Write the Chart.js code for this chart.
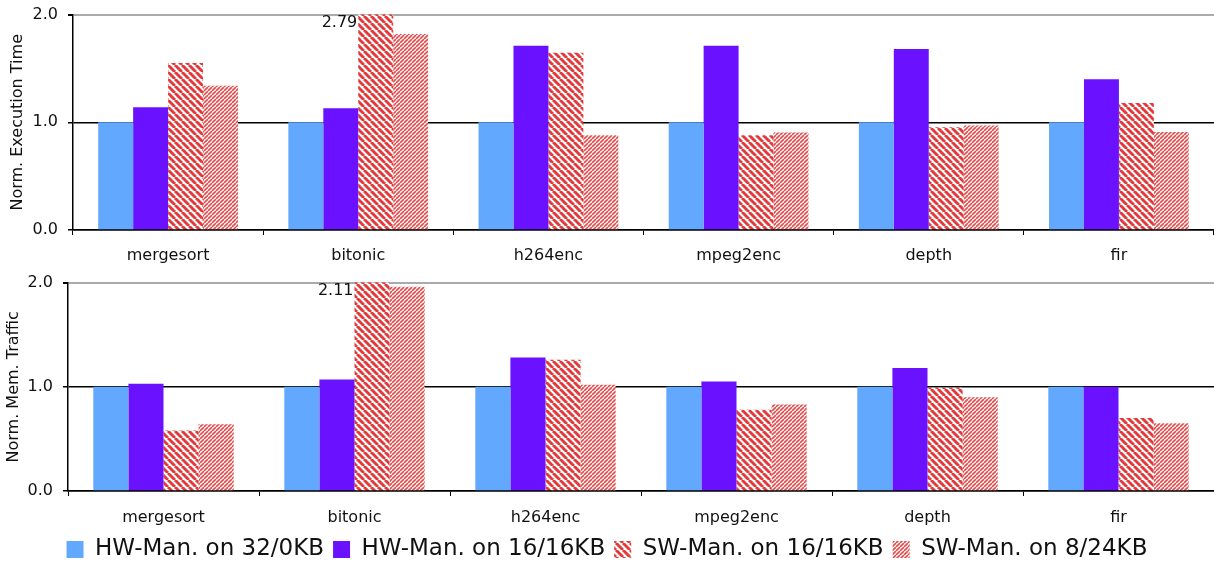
<!DOCTYPE html>
<html>
<head>
<meta charset="utf-8">
<script src="https://cdn.jsdelivr.net/npm/chart.js@4/dist/chart.umd.min.js"></script>
<style>
  html, body { margin: 0; padding: 0; background: #fff; overflow: hidden; }
  #top { position: absolute; left: 0; top: -5px; width: 1214px; height: 269px; }
  #bottom { position: absolute; left: 0; top: 263px; width: 1214px; height: 308px; }
</style>
</head>
<body>
<div id="top"><canvas id="execChart"></canvas></div>
<div id="bottom"><canvas id="trafficChart"></canvas></div>
<script>
// values (normalised to HW-Man. on 32/0KB)
const benchmarks = ["mergesort", "bitonic", "h264enc", "mpeg2enc", "depth", "fir"];
const seriesNames = ["HW-Man. on 32/0KB", "HW-Man. on 16/16KB", "SW-Man. on 16/16KB", "SW-Man. on 8/24KB"];

const execHw32 = [1, 1, 1, 1, 1, 1];
const execHw16 = [1.14, 1.13, 1.71, 1.71, 1.68, 1.40];
const execSw16 = [1.55, 2.79, 1.645, 0.88, 0.955, 1.18];
const execSw8 = [1.34, 1.82, 0.88, 0.905, 0.97, 0.91];

const trafficHw32 = [1, 1, 1, 1, 1, 1];
const trafficHw16 = [1.03, 1.07, 1.28, 1.05, 1.18, 1.0];
const trafficSw16 = [0.58, 2.11, 1.26, 0.78, 0.99, 0.70];
const trafficSw8 = [0.64, 1.96, 1.02, 0.83, 0.90, 0.65];

const yMin = 0;
const yMax = 2;

Chart.defaults.font.family = '"DejaVu Sans", Verdana, sans-serif';
Chart.defaults.color = "#111";

// diagonal hatch fill; dir "back" = "\", otherwise "/"
function stripes(size, width, color, dir) {
  const c = document.createElement("canvas");
  c.width = size;
  c.height = size;
  const g = c.getContext("2d");
  g.fillStyle = "#fff";
  g.fillRect(0, 0, size, size);
  g.strokeStyle = color;
  g.lineWidth = width;
  g.beginPath();
  for (let k = -1; k <= 1; k++) {
    if (dir === "back") {
      g.moveTo(k * size, 0);
      g.lineTo(k * size + size, size);
    } else {
      g.moveTo(k * size, size);
      g.lineTo(k * size + size, 0);
    }
  }
  g.stroke();
  return g.createPattern(c, "repeat");
}

const fills = [
  "#62a8ff",
  "#6a12ff",
  stripes(7, 2.9, "#e2393b", "back"),
  stripes(4, 1.6, "#e64a4a", "fwd"),
];

// print the real value of bars cut off by the axis maximum
const overflowLabels = {
  id: "overflowLabels",
  afterDatasetsDraw(chart) {
    const { ctx, chartArea } = chart;
    const y = chart.scales.y;
    chart.data.datasets.forEach((ds, i) => {
      const meta = chart.getDatasetMeta(i);
      ds.data.forEach((v, j) => {
        if (v <= y.max) return;
        const bar = meta.data[j];
        ctx.save();
        ctx.font = '16px "DejaVu Sans", Verdana, sans-serif';
        ctx.fillStyle = "#111";
        ctx.textAlign = "right";
        ctx.textBaseline = "top";
        ctx.fillText(v.toFixed(2), bar.x - bar.width / 2 - 1, chartArea.top);
        ctx.restore();
      });
    });
  },
};

function makeChart(id, title, series, opts) {
  return new Chart(document.getElementById(id), {
    type: "bar",
    data: {
      labels: benchmarks,
      datasets: series.map((vals, i) => ({
        label: seriesNames[i],
        data: vals,
        backgroundColor: fills[i],
        borderWidth: 0,
        categoryPercentage: 0.735,
        barPercentage: 1.0,
      })),
    },
    options: {
      responsive: true,
      maintainAspectRatio: false,
      animation: false,
      layout: { padding: { top: opts.padTop, right: 0, left: 0, bottom: 0 } },
      plugins: {
        tooltip: { enabled: false },
        legend: {
          display: opts.legend,
          position: "bottom",
          labels: {
            boxWidth: 17,
            boxHeight: 17,
            padding: 9,
            font: { size: 23 },
            color: "#111",
          },
        },
      },
      scales: {
        x: {
          grid: { offset: true, drawOnChartArea: false, tickLength: 5, color: "#000" },
          border: { color: "#000", width: 1.5 },
          ticks: { padding: opts.xPad, font: { size: 16 }, color: "#111" },
          afterFit(scale) { scale.height = opts.xHeight; },
        },
        y: {
          min: yMin,
          max: yMax,
          ticks: {
            stepSize: 1,
            padding: 10,
            font: { size: 16 },
            color: "#111",
            callback: (v) => v.toFixed(1),
          },
          grid: {
            color: (c) => (c.tick && c.tick.value === yMax ? "#aaaaaa" : "#000"),
            lineWidth: (c) => (c.tick && c.tick.value === yMax ? 2 : 1.5),
            tickColor: "#000",
            tickLength: 5,
          },
          border: { color: "#000", width: 1.5 },
          title: {
            display: true,
            text: title,
            font: { size: 16 },
            color: "#111",
            padding: { top: opts.titlePad, bottom: 0 },
          },
          afterFit(scale) { scale.width = opts.yWidth; },
        },
      },
    },
    plugins: [overflowLabels],
  });
}

makeChart("execChart", "Norm. Execution Time",
  [execHw32, execHw16, execSw16, execSw8],
  { padTop: 14, xHeight: 34, xPad: 11, yWidth: 73, titlePad: 8, legend: false });

makeChart("trafficChart", "Norm. Mem. Traffic",
  [trafficHw32, trafficHw16, trafficSw16, trafficSw8],
  { padTop: 18, xHeight: 38, xPad: 12, yWidth: 68, titlePad: 4, legend: true });
</script>
</body>
</html>
